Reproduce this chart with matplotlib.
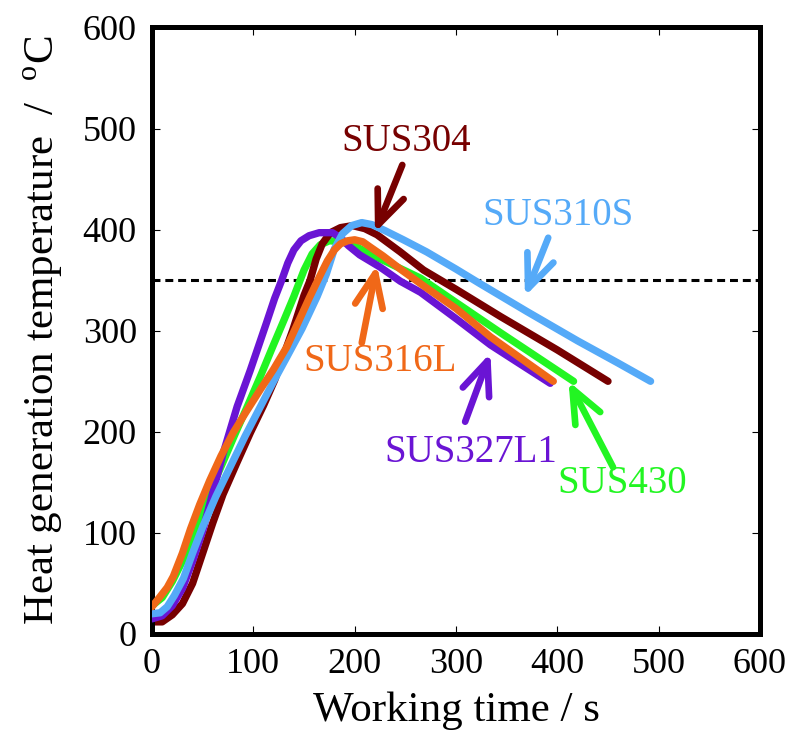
"""Heat generation temperature vs working time for five stainless grades."""

import matplotlib
matplotlib.use("Agg")
import matplotlib.pyplot as plt

plt.rcParams["font.family"] = ["Liberation Serif", "DejaVu Serif"]
plt.rcParams["mathtext.fontset"] = "custom"
plt.rcParams["mathtext.rm"] = "Liberation Serif"

# --- data (time [s], temperature [degC]) ---
sus304_t = [3, 10, 20, 30, 40, 50, 60, 70, 84, 97, 110, 121, 139, 150, 156, 162,
            168, 176, 186, 198, 210, 222, 245, 268, 300, 344, 400, 450]
sus304_T = [12, 12, 19, 30, 50, 80, 110, 138, 170, 199, 226, 251, 301, 335, 350, 371,
            386, 397, 402, 404, 401, 395, 378, 360, 341, 314, 281, 250]

sus310s_t = [0, 8, 15, 22, 31, 40, 50, 63, 77, 92, 107, 120, 133, 148, 163, 172,
             180, 188, 197, 207, 217, 230, 248, 271, 300, 323, 370, 420, 460, 492]
sus310s_T = [20, 21, 27, 38, 55, 80, 106, 136, 165, 196, 225, 250, 274, 302, 334, 356,
             381, 396, 404, 407, 405, 399, 390, 378, 361, 347, 319, 290, 268, 250]

sus430_t = [0, 10, 20, 30, 40, 57, 70, 82, 94, 107, 119, 130, 140, 150, 158, 166,
            175, 188, 200, 215, 240, 265, 300, 344, 380, 416]
sus430_T = [28, 36, 52, 72, 95, 140, 170, 198, 225, 255, 284, 310, 334, 360, 376, 385,
            389, 388, 384, 376, 364, 352, 328, 298, 274, 250]

sus316l_t = [0, 8, 15, 21, 30, 38, 47, 57, 68, 80, 93, 107, 120, 133, 145, 155, 166,
             173, 180, 186, 193, 200, 208, 215, 228, 245, 270, 300, 334, 365, 396]
sus316l_T = [27, 37, 46, 57, 80, 104, 128, 152, 176, 199, 220, 242, 262, 284, 310, 332, 355,
             369, 380, 386, 389, 390, 388, 383, 374, 361, 343, 322, 294, 272, 250]

sus327l1_t = [0, 10, 20, 30, 40, 50, 60, 70, 84, 97, 113, 121, 128, 134, 140, 147,
              155, 165, 178, 186, 194, 205, 225, 245, 265, 300, 334, 365, 393]
sus327l1_T = [15, 18, 28, 45, 72, 102, 140, 178, 225, 261, 308, 332, 350, 367, 380, 389,
              394, 397, 397, 392, 384, 375, 363, 349, 338, 312, 286, 266, 248]

threshold = 350

# label text, colour, text position, arrow tail, arrow tip
labels = [
    ("SUS304", "#770000", (251, 487), (247, 464), (220, 397)),
    ("SUS310S", "#55AAF8", (401, 414), (391, 392), (368, 334)),
    ("SUS316L", "#F06818", (225, 270), (207, 288), (222, 365)),
    ("SUS327L1", "#6A14D4", (315, 180), (309, 210), (334, 278)),
    ("SUS430", "#22F522", (464, 149), (455, 165), (411, 250)),
]
colors = {name: c for name, c, *_ in labels}

fig = plt.figure(figsize=(7.91, 7.31), dpi=100)
ax = fig.add_axes([0.1922, 0.1327, 0.7686, 0.8297])

lw = 5.3
ax.plot(sus304_t, sus304_T, color=colors["SUS304"], lw=lw, solid_capstyle="round",
        solid_joinstyle="round", zorder=2)
ax.plot(sus327l1_t, sus327l1_T, color=colors["SUS327L1"], lw=lw, solid_capstyle="round",
        solid_joinstyle="round", zorder=3)
ax.plot(sus430_t, sus430_T, color=colors["SUS430"], lw=lw, solid_capstyle="round",
        solid_joinstyle="round", zorder=1.5)
ax.plot(sus310s_t, sus310s_T, color=colors["SUS310S"], lw=lw, solid_capstyle="round",
        solid_joinstyle="round", zorder=5)
ax.plot(sus316l_t, sus316l_T, color=colors["SUS316L"], lw=lw, solid_capstyle="round",
        solid_joinstyle="round", zorder=6)

ax.axhline(threshold, color="black", lw=2.2, linestyle=(0, (2.6, 1.6)), zorder=1)

for name, c, txt_xy, tail, tip in labels:
    ax.text(txt_xy[0], txt_xy[1], name, color=c, fontsize=28, ha="center", va="center", zorder=8)
    ax.annotate("", xy=tip, xytext=tail,
                arrowprops=dict(arrowstyle="->,head_length=1.0,head_width=0.42",
                                color=c, lw=4.8, mutation_scale=24,
                                shrinkA=0, shrinkB=0),
                zorder=7)

ax.set_xlim(0, 600)
ax.set_ylim(0, 600)
ax.set_xticks(range(0, 601, 100))
ax.set_yticks(range(0, 601, 100))
ax.tick_params(direction="in", length=6, width=0.8, top=True, right=True,
               labelsize=26)
ax.tick_params(axis="x", pad=10)
ax.tick_params(axis="y", pad=11)
for sp in ax.spines.values():
    sp.set_linewidth(3.6)

ax.set_xlabel("Working time / s", fontsize=31, labelpad=8)
ax.set_ylabel(r"Heat generation temperature  /  $^{\mathrm{o}}$C", fontsize=31, labelpad=13)

fig.savefig("out.png", dpi=100)
